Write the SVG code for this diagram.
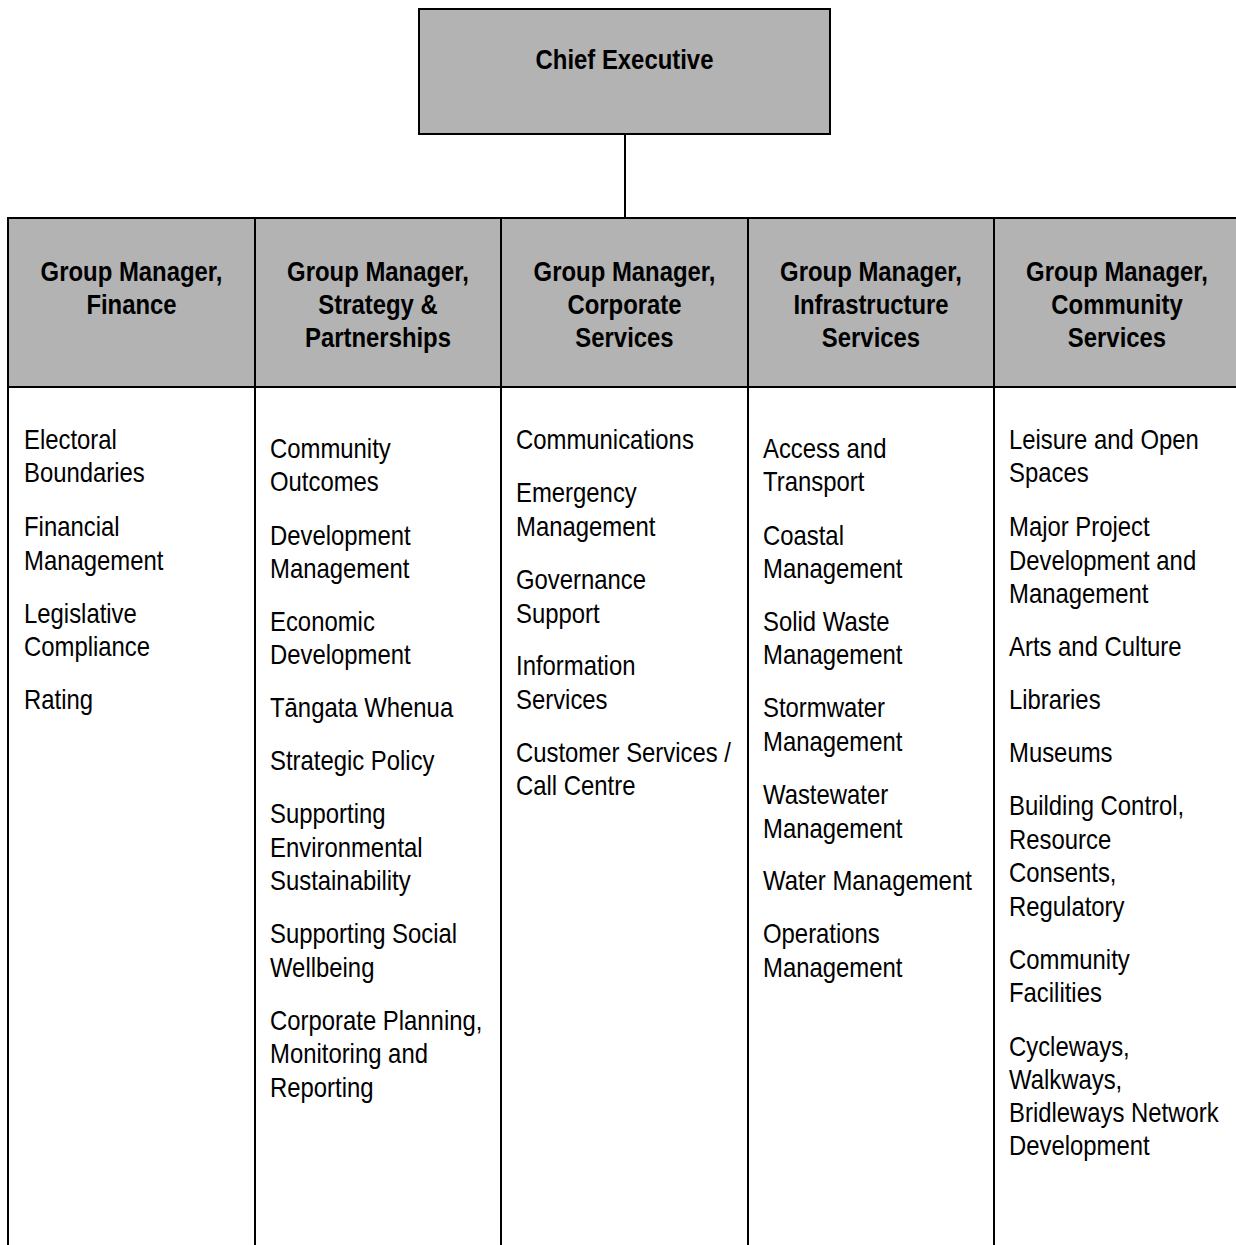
<svg xmlns="http://www.w3.org/2000/svg" width="1236" height="1245" viewBox="0 0 1236 1245">
<style>
.box{fill:#b3b3b3;stroke:#000;stroke-width:2}
.body{fill:#fff;stroke:#000;stroke-width:2}
.conn{stroke:#000;stroke-width:2;fill:none}
.h{font-family:"Liberation Sans",Arial,sans-serif;font-size:28px;font-weight:bold;fill:#000;text-anchor:middle}
.t{font-family:"Liberation Sans",Arial,sans-serif;font-size:28px;fill:#000}
</style>
<rect width="1236" height="1245" fill="#fff"/>
<g id="connectors">
<line class="conn" x1="625" y1="134" x2="625" y2="218"/>
</g>
<g id="chief-executive">
<rect class="box" x="419" y="9" width="411" height="125"/>
<g transform="translate(624.5,0) scale(0.853,1)"><text class="h" x="0" y="69">Chief Executive</text></g>
</g>
<g id="finance">
<rect class="box" x="8" y="218" width="247" height="169"/>
<rect class="body" x="8" y="387" width="247" height="870"/>
<g transform="translate(131.5,0) scale(0.853,1)"><text class="h"><tspan x="0" y="281">Group Manager,</tspan><tspan x="0" y="314">Finance</tspan></text></g>
<g transform="translate(24,0) scale(0.853,1)"><text class="t"><tspan x="0" y="449">Electoral</tspan><tspan x="0" y="482">Boundaries</tspan><tspan x="0" y="536">Financial</tspan><tspan x="0" y="570">Management</tspan><tspan x="0" y="623">Legislative</tspan><tspan x="0" y="656">Compliance</tspan><tspan x="0" y="709">Rating</tspan></text></g>
</g>
<g id="strategy">
<rect class="box" x="255" y="218" width="246" height="169"/>
<rect class="body" x="255" y="387" width="246" height="870"/>
<g transform="translate(378,0) scale(0.853,1)"><text class="h"><tspan x="0" y="281">Group Manager,</tspan><tspan x="0" y="314">Strategy &amp;</tspan><tspan x="0" y="347">Partnerships</tspan></text></g>
<g transform="translate(270,0) scale(0.853,1)"><text class="t"><tspan x="0" y="458">Community</tspan><tspan x="0" y="491">Outcomes</tspan><tspan x="0" y="545">Development</tspan><tspan x="0" y="578">Management</tspan><tspan x="0" y="631">Economic</tspan><tspan x="0" y="664">Development</tspan><tspan x="0" y="717">Tāngata Whenua</tspan><tspan x="0" y="770">Strategic Policy</tspan><tspan x="0" y="823">Supporting</tspan><tspan x="0" y="857">Environmental</tspan><tspan x="0" y="890">Sustainability</tspan><tspan x="0" y="943">Supporting Social</tspan><tspan x="0" y="977">Wellbeing</tspan><tspan x="0" y="1030">Corporate Planning,</tspan><tspan x="0" y="1063">Monitoring and</tspan><tspan x="0" y="1097">Reporting</tspan></text></g>
</g>
<g id="corporate">
<rect class="box" x="501" y="218" width="247" height="169"/>
<rect class="body" x="501" y="387" width="247" height="870"/>
<g transform="translate(624.5,0) scale(0.853,1)"><text class="h"><tspan x="0" y="281">Group Manager,</tspan><tspan x="0" y="314">Corporate</tspan><tspan x="0" y="347">Services</tspan></text></g>
<g transform="translate(516,0) scale(0.853,1)"><text class="t"><tspan x="0" y="449">Communications</tspan><tspan x="0" y="502">Emergency</tspan><tspan x="0" y="536">Management</tspan><tspan x="0" y="589">Governance</tspan><tspan x="0" y="623">Support</tspan><tspan x="0" y="675">Information</tspan><tspan x="0" y="709">Services</tspan><tspan x="0" y="762">Customer Services /</tspan><tspan x="0" y="795">Call Centre</tspan></text></g>
</g>
<g id="infrastructure">
<rect class="box" x="748" y="218" width="246" height="169"/>
<rect class="body" x="748" y="387" width="246" height="870"/>
<g transform="translate(871,0) scale(0.853,1)"><text class="h"><tspan x="0" y="281">Group Manager,</tspan><tspan x="0" y="314">Infrastructure</tspan><tspan x="0" y="347">Services</tspan></text></g>
<g transform="translate(763,0) scale(0.853,1)"><text class="t"><tspan x="0" y="458">Access and</tspan><tspan x="0" y="491">Transport</tspan><tspan x="0" y="545">Coastal</tspan><tspan x="0" y="578">Management</tspan><tspan x="0" y="631">Solid Waste</tspan><tspan x="0" y="664">Management</tspan><tspan x="0" y="717">Stormwater</tspan><tspan x="0" y="751">Management</tspan><tspan x="0" y="804">Wastewater</tspan><tspan x="0" y="838">Management</tspan><tspan x="0" y="890">Water Management</tspan><tspan x="0" y="943">Operations</tspan><tspan x="0" y="977">Management</tspan></text></g>
</g>
<g id="community">
<rect class="box" x="994" y="218" width="246" height="169"/>
<rect class="body" x="994" y="387" width="246" height="870"/>
<g transform="translate(1117,0) scale(0.853,1)"><text class="h"><tspan x="0" y="281">Group Manager,</tspan><tspan x="0" y="314">Community</tspan><tspan x="0" y="347">Services</tspan></text></g>
<g transform="translate(1009,0) scale(0.853,1)"><text class="t"><tspan x="0" y="449">Leisure and Open</tspan><tspan x="0" y="482">Spaces</tspan><tspan x="0" y="536">Major Project</tspan><tspan x="0" y="570">Development and</tspan><tspan x="0" y="603">Management</tspan><tspan x="0" y="656">Arts and Culture</tspan><tspan x="0" y="709">Libraries</tspan><tspan x="0" y="762">Museums</tspan><tspan x="0" y="815">Building Control,</tspan><tspan x="0" y="849">Resource</tspan><tspan x="0" y="882">Consents,</tspan><tspan x="0" y="916">Regulatory</tspan><tspan x="0" y="969">Community</tspan><tspan x="0" y="1002">Facilities</tspan><tspan x="0" y="1056">Cycleways,</tspan><tspan x="0" y="1089">Walkways,</tspan><tspan x="0" y="1122">Bridleways Network</tspan><tspan x="0" y="1155">Development</tspan></text></g>
</g>
</svg>
